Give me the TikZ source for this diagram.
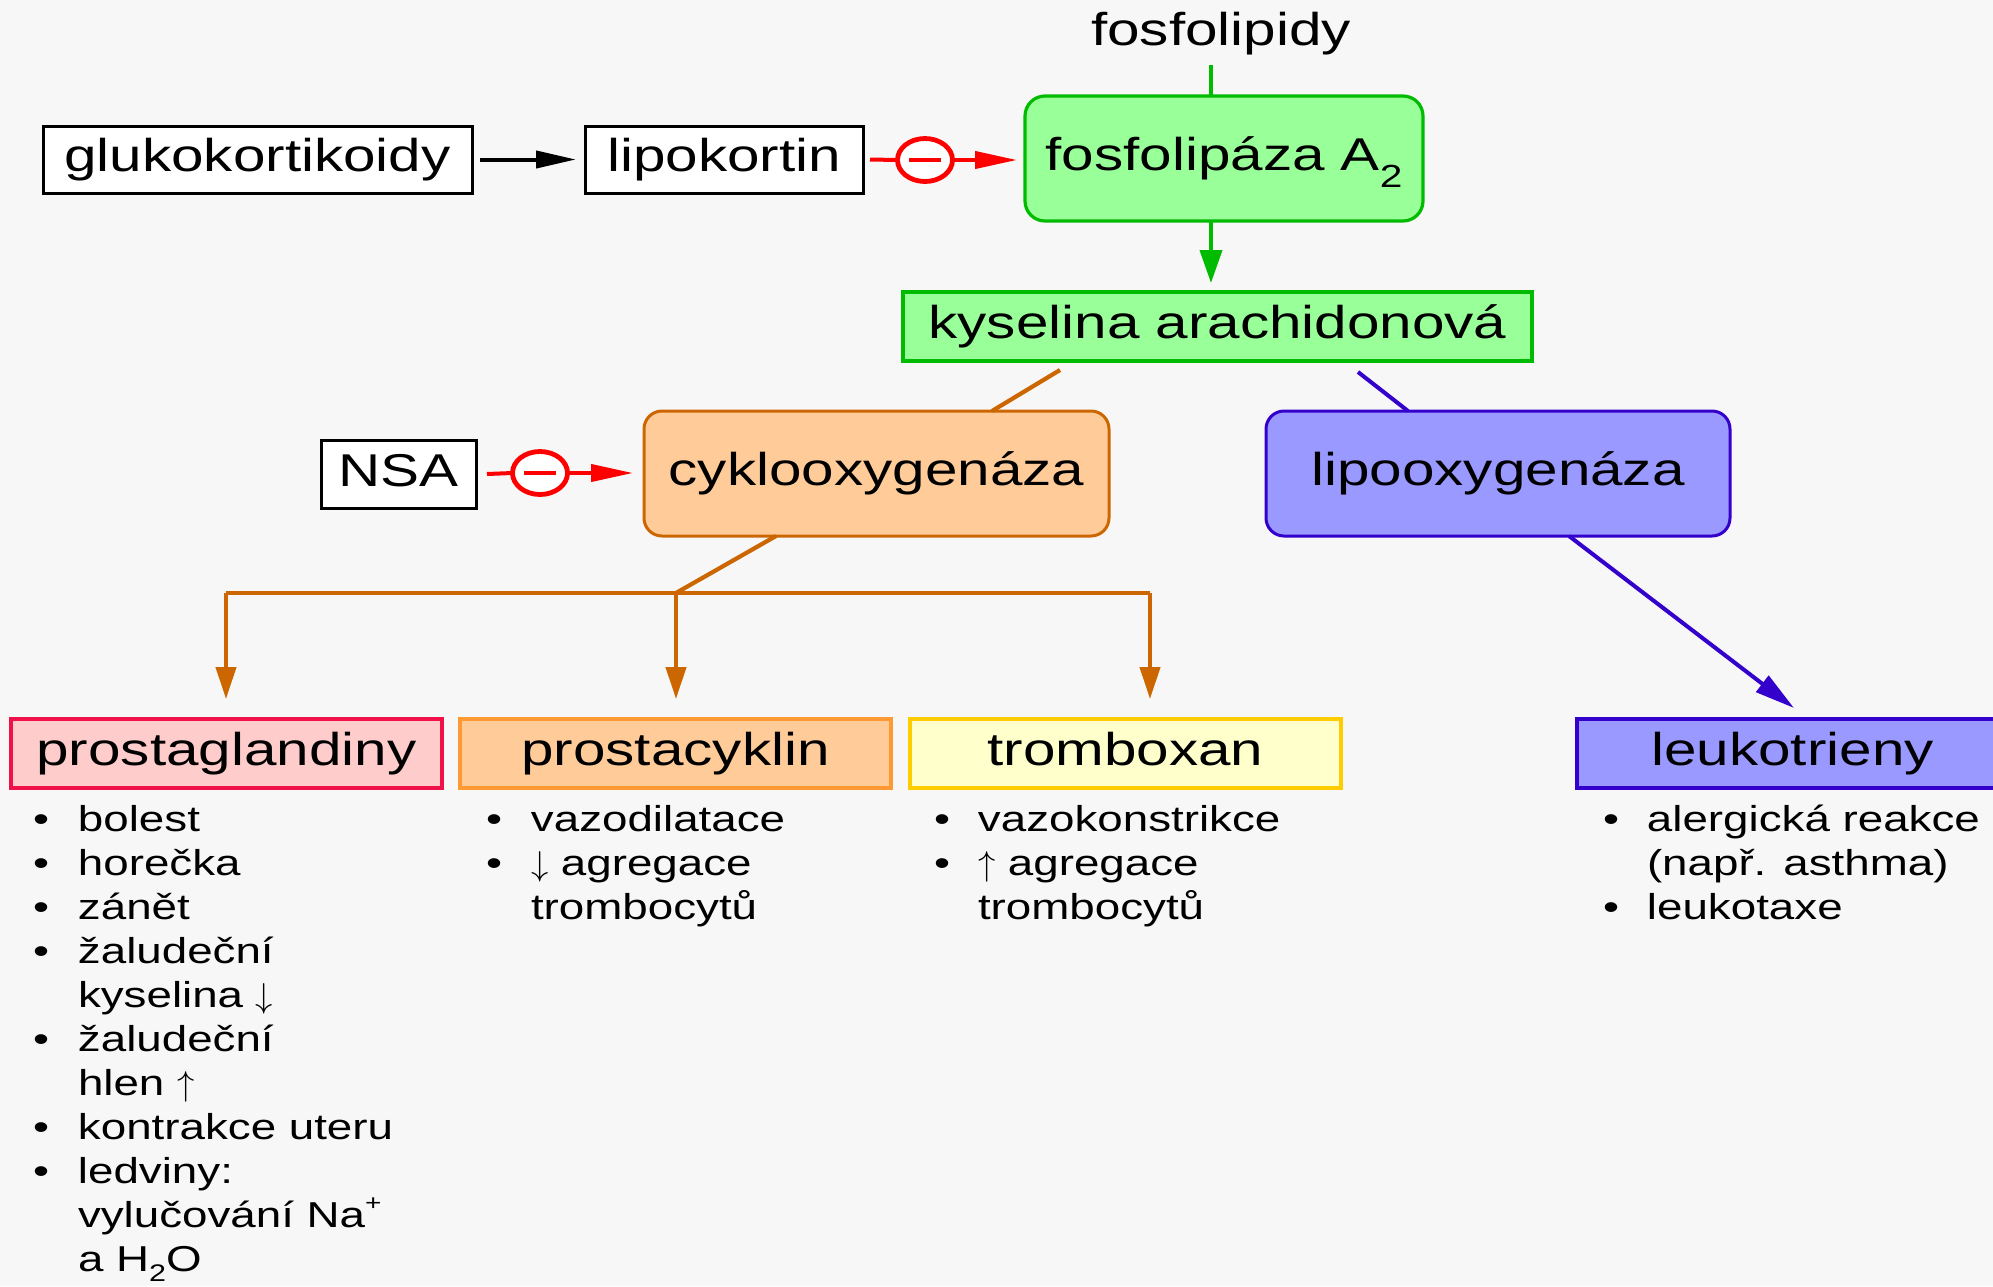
\documentclass[tikz,border=0pt]{standalone}
\usepackage{fontspec}
\setmainfont{Liberation Sans}[FakeStretch=1.27]
\usetikzlibrary{arrows.meta,calc,shapes.geometric}

\definecolor{bgcol}{HTML}{F7F7F7}
\definecolor{plaFill}{HTML}{99FF99}
\definecolor{plaDraw}{HTML}{00BB00}
\definecolor{coxFill}{HTML}{FFCC99}
\definecolor{coxDraw}{HTML}{CC6600}
\definecolor{loxFill}{HTML}{9999FF}
\definecolor{loxDraw}{HTML}{3300CC}
\definecolor{pgFill}{HTML}{FFCCCC}
\definecolor{pgDraw}{HTML}{F0104A}
\definecolor{pcFill}{HTML}{FFCC99}
\definecolor{pcDraw}{HTML}{FF9933}
\definecolor{txFill}{HTML}{FFFFCC}
\definecolor{txDraw}{HTML}{FFCC00}
\definecolor{inhRed}{HTML}{FF0000}

% thin full-height arrows used in the effect lists
\newcommand{\arrdown}{\ensuremath{\downarrow}}
\newcommand{\arrup}{\ensuremath{\uparrow}}

\tikzset{
  every node/.style={inner sep=0pt, outer sep=0pt},
  bigtext/.style={font=\fontsize{23}{27}\selectfont, text height=16.8pt, text depth=4.6pt},
  listtext/.style={font=\fontsize{18}{22}\selectfont, align=left},
  plainbox/.style={bigtext, draw=black, fill=white, line width=1.5pt},
  greenbox/.style={bigtext, draw=plaDraw, fill=plaFill, line width=1.6pt},
  coxbox/.style={bigtext, draw=coxDraw, fill=coxFill, line width=1.5pt, rounded corners=9pt},
  loxbox/.style={bigtext, draw=loxDraw, fill=loxFill, line width=1.5pt, rounded corners=9pt},
  prodbox/.style={bigtext, line width=1.6pt, minimum width=215.5pt, minimum height=34.5pt},
  inhib/.style={ellipse, draw=inhRed, fill=white, line width=2.4pt,
    minimum width=27.5pt, minimum height=21.5pt},
  redline/.style={draw=inhRed, line width=2pt},
  blackline/.style={draw=black, line width=2pt},
  greenline/.style={draw=plaDraw, line width=2pt},
  coxline/.style={draw=coxDraw, line width=2.1pt},
  loxline/.style={draw=loxDraw, line width=2pt},
}

\begin{document}
\begin{tikzpicture}[x=0.5pt,y=-0.5pt]
\useasboundingbox (0,0) rectangle (1993,1286);
\clip (0,0) rectangle (1993,1286);
\fill[bgcol] (0,0) rectangle (1993,1286);

% --- top row: glucocorticoids, lipocortin, phospholipase A2
\node[plainbox, minimum width=214.5pt, minimum height=33.5pt] (gluko) at (257.5,159.5) {glukokortikoidy};
\node[plainbox, minimum width=139pt, minimum height=33.5pt] (lipokor) at (724,159.5) {lipokortin};
\node[greenbox, rounded corners=10pt, minimum width=199pt, minimum height=62.5pt] (pla) at (1224,158.5)
  {fosfolipáza A\raisebox{-0.36em}{\fontsize{16}{16}\selectfont 2}};
\node[bigtext, anchor=base] (fosfo) at (1221,45) {fosfolipidy};
\coordinate (fosfoFoot) at (1211,65);

% --- arachidonic acid
\node[greenbox, minimum width=314.5pt, minimum height=34.5pt] (aa) at (1217.5,326.5) {kyselina arachidonová};

% --- enzymes
\node[plainbox, minimum width=77.5pt, minimum height=34pt] (nsa) at (398.5,474) {NSA};
\node[coxbox, minimum width=232.5pt, minimum height=62.5pt] (cox) at (876.5,473.5) {cyklooxygenáza};
\node[loxbox, minimum width=232pt, minimum height=62.5pt] (lox) at (1498,473.5) {lipooxygenáza};

% --- products
\node[prodbox, draw=pgDraw, fill=pgFill] (pg) at (226.5,753.5) {prostaglandiny};
\node[prodbox, draw=pcDraw, fill=pcFill] (pc) at (675.5,753.5) {prostacyklin};
\node[prodbox, draw=txDraw, fill=txFill] (tx) at (1125.5,753.5) {tromboxan};
\node[prodbox, draw=loxDraw, fill=loxFill] (lk) at (1792.5,753.5) {leukotrieny};

% --- effect lists
\node[listtext, anchor=base west] (pgList) at (33,831) {%
\begin{tabular}[t]{@{}p{22.5pt}@{}l@{}}
•& bolest\\
•& horečka\\
•& zánět\\
•& žaludeční\\
 & kyselina \arrdown\\
•& žaludeční\\
 & hlen \arrup\\
•& kontrakce uteru\\
•& ledviny:\\
 & vylučování Na\raisebox{0.45em}{\fontsize{11}{11}\selectfont +}\\
 & a H\raisebox{-0.3em}{\fontsize{12}{12}\selectfont 2}O
\end{tabular}};
\node[listtext, anchor=base west] (pcList) at (486,831) {%
\begin{tabular}[t]{@{}p{22.5pt}@{}l@{}}
•& vazodilatace\\
•& \arrdown{} agregace\\
 & trombocytů
\end{tabular}};
\node[listtext, anchor=base west] (txList) at (934,831) {%
\begin{tabular}[t]{@{}p{22pt}@{}l@{}}
•& vazokonstrikce\\
•& \arrup{} agregace\\
 & trombocytů
\end{tabular}};
\node[listtext, anchor=base west] (lkList) at (1603,831) {%
\begin{tabular}[t]{@{}p{22pt}@{}l@{}}
•& alergická reakce\\
 & (např. asthma)\\
•& leukotaxe
\end{tabular}};

% --- glucocorticoids -> lipocortin
\draw[blackline, -{Triangle[length=20pt,width=8.5pt]}]
  ($(gluko.east)+(8,0)$) -- ($(lipokor.west)+(-9,0)$);

% --- lipocortin inhibits phospholipase A2
\node[inhib] (inhA) at (925,160) {};
\draw[inhRed, line width=2pt] ($(inhA)+(-16,0)$) -- ($(inhA)+(16,0)$);
\draw[redline] ($(lipokor.east)+(7,0)$) -- (inhA.west);
\draw[redline, -{Triangle[length=21pt,width=8.5pt]}]
  (inhA.east) -- ($(pla.west|-inhA)+(-8,0)$);

% --- NSA inhibits cyclooxygenase
\node[inhib] (inhB) at (540,473) {};
\draw[inhRed, line width=2pt] ($(inhB)+(-16,0)$) -- ($(inhB)+(16,0)$);
\draw[redline] ($(nsa.east)+(11,0)$) -- (inhB.west);
\draw[redline, -{Triangle[length=21pt,width=8.5pt]}]
  (inhB.east) -- ($(cox.west|-inhB)+(-11,0)$);

% --- phospholipids -> PLA2 -> arachidonic acid
\draw[greenline] (fosfoFoot) -- (fosfoFoot|-pla.north);
\draw[greenline, -{Triangle[length=16.5pt,width=11pt]}]
  (fosfoFoot|-pla.south) -- ($(fosfoFoot|-aa.north)+(0,-9)$);

% --- cyclooxygenase branch
\coordinate (aaL) at (1060,370);
\draw[coxline] (aaL) -- ($(cox.north)+(115.5,0)$);
\coordinate (coxOut) at ($(cox.south)+(-100.5,0)$);
\coordinate (junc) at (676,593);
\coordinate (barL) at (226,593);
\coordinate (barR) at (1150,593);
\draw[coxline] (coxOut) -- (junc);
\draw[coxline] (barL) -- (barR);
\draw[coxline, -{Triangle[length=16pt,width=10pt]}] (barL) -- ($(barL|-pg.north)+(0,-20)$);
\draw[coxline, -{Triangle[length=16pt,width=10pt]}] (junc) -- ($(junc|-pc.north)+(0,-20)$);
\draw[coxline, -{Triangle[length=16pt,width=10pt]}] (barR) -- ($(barR|-tx.north)+(0,-20)$);

% --- lipoxygenase branch
\coordinate (aaR) at (1358,372);
\draw[loxline] (aaR) -- ($(lox.north)+(-90,0)$);
\draw[loxline, -{Triangle[length=20pt,width=10pt]}]
  ($(lox.south)+(71,0)$) -- ($(lk.north)+(1.5,-11)$);
\end{tikzpicture}
\end{document}
